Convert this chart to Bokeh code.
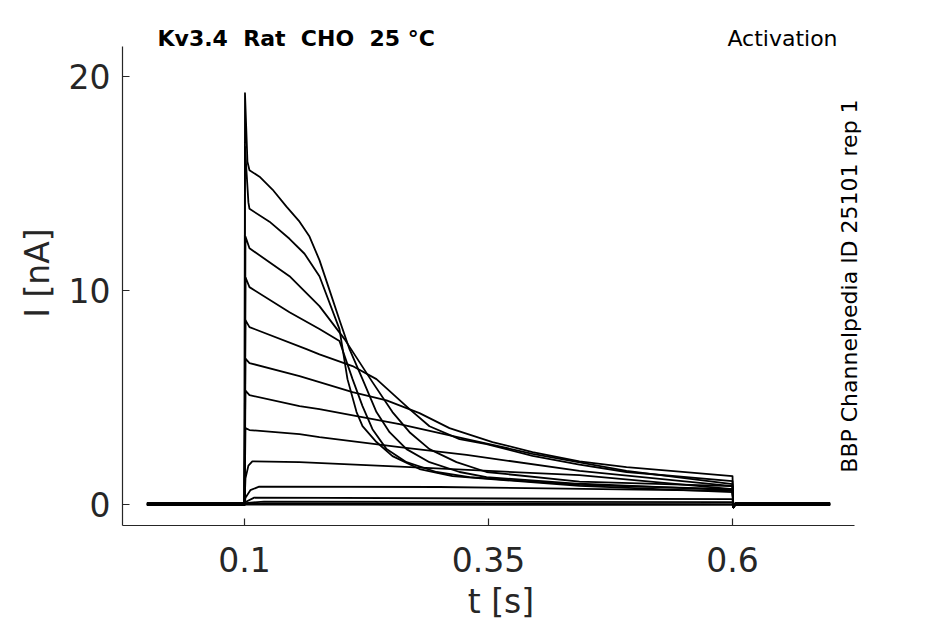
from bokeh.plotting import figure
from bokeh.models import Range1d, FixedTicker, Label
from bokeh.embed import file_html
from bokeh.resources import INLINE

# ---- protocol timing (s) ----
T_START, T_ON, T_OFF, T_END = 0.0, 0.1, 0.6, 0.7
TAIL_T = [0.6008, 0.6030]
TAIL_I = [-0.15, 0.0]

# ---- sweeps: time (s) and current (nA) during the voltage step ----
sweep_01_t = [0.1005, 0.1030, 0.1051, 0.1154, 0.1287, 0.1430, 0.1564, 0.1666, 0.1768, 0.1871, 0.1973, 0.2076, 0.2209, 0.2352, 0.2486, 0.2660, 0.2895, 0.3203, 0.3480, 0.4432, 0.6000]
sweep_01_i = [19.2, 16.0, 15.6, 15.3, 14.7, 13.9, 13.2, 12.5, 11.4, 10.0, 8.6, 7.24, 5.84, 4.30, 3.36, 2.57, 1.96, 1.50, 1.26, 0.95, 0.65]

sweep_02_t = [0.1005, 0.1040, 0.1051, 0.1256, 0.1461, 0.1615, 0.1768, 0.1973, 0.2055, 0.2148, 0.2209, 0.2352, 0.2516, 0.2793, 0.3131, 0.4432, 0.6000]
sweep_02_i = [16.7, 14.1, 13.8, 13.2, 12.4, 11.7, 10.65, 8.18, 5.84, 4.30, 3.64, 2.90, 2.24, 1.64, 1.31, 0.85, 0.56]

sweep_03_t = [0.1010, 0.1051, 0.1256, 0.1461, 0.1768, 0.2025, 0.2311, 0.2516, 0.2691, 0.2895, 0.3172, 0.3480, 0.4432, 0.6000]
sweep_03_i = [12.5, 11.96, 11.3, 10.65, 9.25, 7.71, 5.70, 4.30, 3.36, 2.57, 1.96, 1.50, 1.05, 0.84]

sweep_04_t = [0.1010, 0.1051, 0.1461, 0.1768, 0.1973, 0.2107, 0.2209, 0.2311, 0.2455, 0.2660, 0.2967, 0.3305, 0.4432, 0.6000]
sweep_04_i = [10.6, 10.14, 8.97, 8.18, 7.62, 5.84, 4.58, 3.50, 2.57, 1.96, 1.50, 1.26, 0.90, 0.70]

sweep_05_t = [0.1010, 0.1051, 0.1635, 0.1768, 0.2107, 0.2352, 0.2691, 0.2895, 0.3203, 0.3480, 0.3951, 0.4432, 0.4914, 0.6000]
sweep_05_i = [8.6, 8.27, 7.24, 7.00, 6.45, 5.84, 4.44, 3.64, 3.04, 2.80, 2.25, 1.85, 1.50, 1.07]

sweep_06_t = [0.1010, 0.1051, 0.1564, 0.1768, 0.2107, 0.2455, 0.2793, 0.3100, 0.3541, 0.3951, 0.4432, 0.4914, 0.6000]
sweep_06_i = [6.8, 6.59, 5.98, 5.70, 5.23, 4.85, 4.25, 3.55, 2.90, 2.43, 2.00, 1.73, 1.31]

sweep_07_t = [0.1010, 0.1051, 0.1564, 0.1768, 0.2588, 0.3275, 0.3951, 0.4914, 0.6000]
sweep_07_i = [5.3, 5.09, 4.58, 4.44, 3.74, 3.04, 2.35, 1.55, 0.93]

sweep_08_t = [0.1010, 0.1051, 0.1564, 0.1768, 0.2588, 0.3275, 0.4432, 0.6000]
sweep_08_i = [3.55, 3.46, 3.27, 3.13, 2.66, 2.30, 1.55, 0.84]

sweep_09_t = [0.1010, 0.1040, 0.1080, 0.1564, 0.2588, 0.4432, 0.6000]
sweep_09_i = [1.2, 1.8, 2.0, 1.96, 1.75, 1.35, 0.70]

sweep_10_t = [0.1010, 0.1060, 0.1150, 0.3000, 0.6000]
sweep_10_i = [0.3, 0.65, 0.82, 0.80, 0.62]

sweep_11_t = [0.1010, 0.1100, 0.6000]
sweep_11_i = [0.10, 0.30, 0.23]

sweep_12_t = [0.1010, 0.1200, 0.6000]
sweep_12_i = [0.05, 0.12, 0.09]

sweep_13_t = [0.1010, 0.6000]
sweep_13_i = [0.02, 0.0]

sweep_14_t = [0.1010, 0.6000]
sweep_14_i = [-0.02, -0.04]

holding_i = [0.04, 0.0, -0.04, 0.02, -0.02, 0.04, 0.0, -0.04, 0.02, -0.02, 0.04, 0.0, -0.04, 0.0]

sweeps_t = [sweep_01_t, sweep_02_t, sweep_03_t, sweep_04_t, sweep_05_t, sweep_06_t, sweep_07_t,
            sweep_08_t, sweep_09_t, sweep_10_t, sweep_11_t, sweep_12_t, sweep_13_t, sweep_14_t]
sweeps_i = [sweep_01_i, sweep_02_i, sweep_03_i, sweep_04_i, sweep_05_i, sweep_06_i, sweep_07_i,
            sweep_08_i, sweep_09_i, sweep_10_i, sweep_11_i, sweep_12_i, sweep_13_i, sweep_14_i]

x_ticks = [0.1, 0.35, 0.6]
x_tick_labels = ["0.1", "0.35", "0.6"]
y_ticks = [0, 10, 20]
y_tick_labels = ["0", "10", "20"]

# axis extents (data units) and the wider frame that also holds the annotations
X_AXIS_BOUNDS = (-0.025, 0.725)
Y_AXIS_BOUNDS = (-1.0, 21.4)
X_FRAME = (-0.025, 0.7506)
Y_FRAME = (-1.0, 22.6)

title_text = "Kv3.4 \u00a0Rat \u00a0CHO \u00a025 \u00b0C"
protocol_text = "Activation"
id_text = "BBP Channelpedia ID 25101 rep 1"

# ---- build traces ----
xs, ys = [], []
for st, si, h in zip(sweeps_t, sweeps_i, holding_i):
    xs.append([T_START, T_ON] + st + TAIL_T + [T_END])
    ys.append([h, h] + si + [TAIL_I[0], h] + [h])

FONT = "DejaVu Sans"
TXT = "#262626"

p = figure(width=929, height=623, output_backend="svg", toolbar_location=None,
           x_range=Range1d(*X_FRAME), y_range=Range1d(*Y_FRAME),
           min_border_left=122, min_border_right=50, min_border_top=20, min_border_bottom=98)
p.outline_line_color = None
p.grid.visible = False
p.background_fill_color = "white"
p.border_fill_color = "white"

p.multi_line(xs, ys, line_color="black", line_width=1.8, line_join="round")

for ax in (p.xaxis[0], p.yaxis[0]):
    ax.axis_line_color = TXT
    ax.axis_line_width = 1.2
    ax.major_tick_line_color = TXT
    ax.major_tick_line_width = 1.2
    ax.major_tick_in = 7
    ax.major_tick_out = 0
    ax.minor_tick_line_color = None
    ax.major_label_text_font = FONT
    ax.major_label_text_font_size = "33px"
    ax.major_label_text_color = TXT
    ax.axis_label_text_font = FONT
    ax.axis_label_text_font_size = "33px"
    ax.axis_label_text_font_style = "normal"
    ax.axis_label_text_color = TXT

p.xaxis.bounds = X_AXIS_BOUNDS
p.xaxis.ticker = FixedTicker(ticks=x_ticks)
p.xaxis.major_label_overrides = dict(zip(x_ticks, x_tick_labels))
p.xaxis.major_label_standoff = 21
p.xaxis.axis_label = "t [s]"
p.xaxis.axis_label_standoff = 7

p.yaxis.bounds = Y_AXIS_BOUNDS
p.yaxis.ticker = FixedTicker(ticks=y_ticks)
p.yaxis.major_label_overrides = dict(zip(y_ticks, y_tick_labels))
p.yaxis.major_label_standoff = 12
p.yaxis.axis_label = "I [nA]"
p.yaxis.axis_label_standoff = 9

p.add_layout(Label(x=0.0109, y=21.76, text=title_text, text_font=FONT, text_font_size="22px",
                   text_font_style="bold", text_color="black", text_align="left", text_baseline="middle"))
p.add_layout(Label(x=0.7076, y=21.76, text=protocol_text, text_font=FONT, text_font_size="22px",
                   text_color="black", text_align="right", text_baseline="middle"))
p.add_layout(Label(x=0.7198, y=10.19, text=id_text, text_font=FONT, text_font_size="22px",
                   text_color="black", angle=1.5707963, text_align="center", text_baseline="middle"))

open("out.html", "w").write(file_html(p, INLINE))
